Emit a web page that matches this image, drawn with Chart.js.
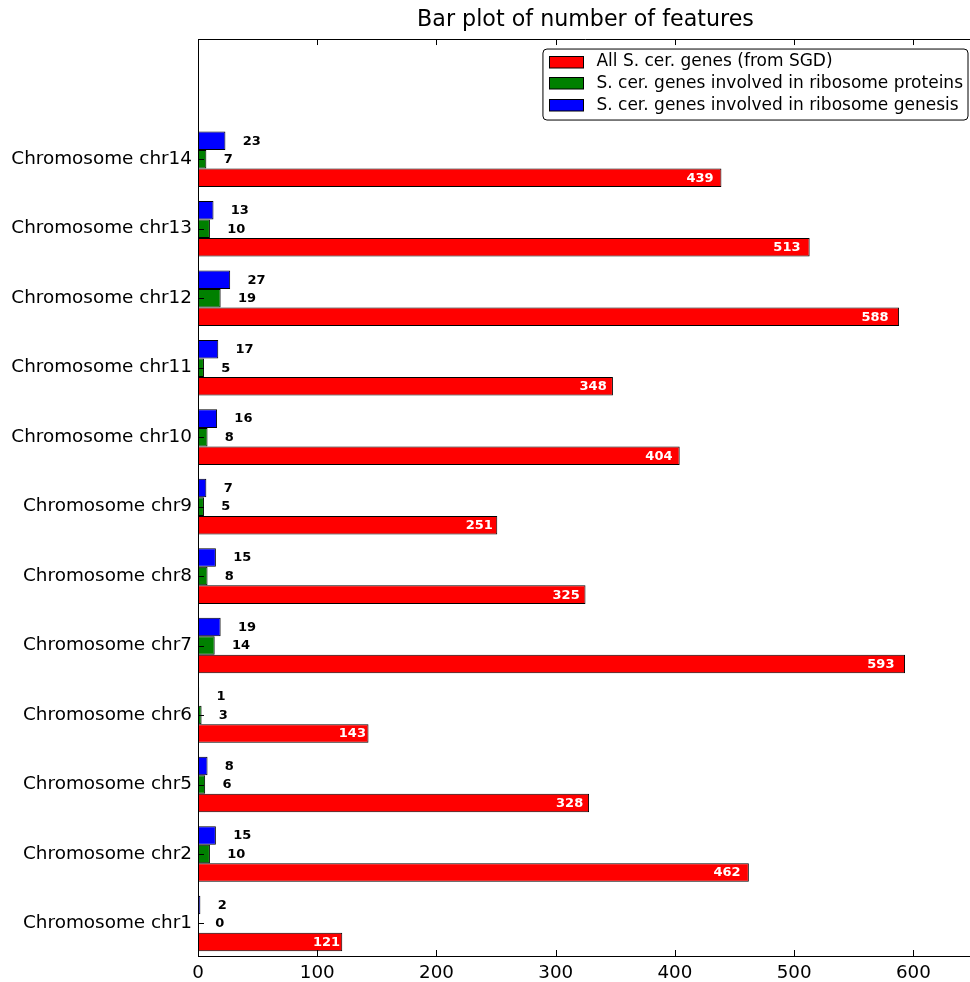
<!DOCTYPE html>
<html>
<head>
<meta charset="utf-8">
<title>Bar plot of number of features</title>
<script src="https://cdn.jsdelivr.net/npm/chart.js@4/dist/chart.umd.min.js"></script>
<style>
  html, body { margin: 0; padding: 0; background: #fff; overflow: hidden; }
  #wrap { position: relative; width: 980px; height: 982px; }
</style>
</head>
<body>
<div id="wrap"><canvas id="chart"></canvas></div>
<script>
// Chromosomes, bottom to top
const chromosomes = [
  'Chromosome chr1', 'Chromosome chr2', 'Chromosome chr5', 'Chromosome chr6',
  'Chromosome chr7', 'Chromosome chr8', 'Chromosome chr9', 'Chromosome chr10',
  'Chromosome chr11', 'Chromosome chr12', 'Chromosome chr13', 'Chromosome chr14'
];
const allGenes     = [121, 462, 328, 143, 593, 325, 251, 404, 348, 588, 513, 439];
const riboProteins = [0, 10, 6, 3, 14, 8, 5, 8, 5, 19, 10, 7];
const riboGenesis  = [2, 15, 8, 1, 19, 15, 7, 16, 17, 27, 13, 23];
const xTicks = [0, 100, 200, 300, 400, 500, 600];

const FONT = '"DejaVu Sans", "Liberation Sans", sans-serif';
Chart.defaults.font.family = FONT;
Chart.defaults.color = '#000';

const series = (values) => values.map((v, i) => ({ x: v, y: i }));

// Value labels: white inside the long bars, black beside the short ones
const valueLabels = {
  id: 'valueLabels',
  afterDatasetsDraw(chart) {
    const ctx = chart.ctx;
    const xs = chart.scales.x;
    ctx.save();
    ctx.font = 'bold 13px ' + FONT;
    ctx.textBaseline = 'middle';
    chart.data.datasets.forEach((ds, di) => {
      chart.getDatasetMeta(di).data.forEach((bar, j) => {
        const v = ds.data[j].x;
        if (ds.labelInside) {
          ctx.fillStyle = '#fff';
          ctx.textAlign = 'right';
          ctx.fillText(String(v), xs.getPixelForValue(v * 0.985), bar.y + 0.5);
        } else {
          ctx.fillStyle = '#000';
          ctx.textAlign = 'left';
          ctx.fillText(String(v), xs.getPixelForValue(v + 14.5), bar.y + 0.5);
        }
      });
    });
    ctx.restore();
  }
};

// Top/right spines and inward tick marks
const frame = {
  id: 'frame',
  afterDatasetsDraw(chart) {
    const { ctx, chartArea: a, scales: { x, y } } = chart;
    const T = 6;
    ctx.save();
    ctx.strokeStyle = '#000';
    ctx.lineWidth = 1;
    ctx.beginPath();
    const top = Math.round(a.top) + 0.5;
    const right = Math.round(a.right) + 0.5;
    ctx.moveTo(a.left, top); ctx.lineTo(right, top);
    ctx.moveTo(right, a.top); ctx.lineTo(right, a.bottom);
    x.ticks.forEach(t => {
      const px = Math.round(x.getPixelForValue(t.value)) + 0.5;
      ctx.moveTo(px, a.top); ctx.lineTo(px, a.top + T);
      ctx.moveTo(px, a.bottom); ctx.lineTo(px, a.bottom - T);
    });
    y.ticks.forEach(t => {
      const py = Math.round(y.getPixelForValue(t.value)) + 0.5;
      ctx.moveTo(a.left, py); ctx.lineTo(a.left + T, py);
    });
    ctx.stroke();
    ctx.restore();
  }
};

// Legend box in the upper right corner of the plot area
const insideLegend = {
  id: 'insideLegend',
  afterDraw(chart) {
    const { ctx, chartArea: a } = chart;
    const items = chart.data.datasets.slice().reverse();
    ctx.save();
    ctx.font = '17px ' + FONT;
    const textW = Math.max(...items.map(d => ctx.measureText(d.label).width));
    const padL = 6.5, handleW = 34, handleH = 11.5, gap = 13, padR = 5, rowH = 21.7;
    const w = padL + handleW + gap + textW + padR;
    const h = 71;
    const right = a.right - 5;
    const top = a.top + 10;
    const left = right - w;
    const r = 4;
    ctx.beginPath();
    ctx.moveTo(left + r, top);
    ctx.lineTo(left + w - r, top);
    ctx.arcTo(left + w, top, left + w, top + r, r);
    ctx.lineTo(left + w, top + h - r);
    ctx.arcTo(left + w, top + h, left + w - r, top + h, r);
    ctx.lineTo(left + r, top + h);
    ctx.arcTo(left, top + h, left, top + h - r, r);
    ctx.lineTo(left, top + r);
    ctx.arcTo(left, top, left + r, top, r);
    ctx.closePath();
    ctx.fillStyle = '#fff';
    ctx.fill();
    ctx.strokeStyle = '#000';
    ctx.lineWidth = 1;
    ctx.stroke();
    items.forEach((d, i) => {
      const cy = top + 12.5 + i * rowH;
      const hx = Math.round(left + padL) + 0.5;
      const hy = Math.round(cy - handleH / 2) + 0.5;
      ctx.fillStyle = d.backgroundColor;
      ctx.fillRect(hx, hy, handleW, handleH);
      ctx.strokeRect(hx, hy, handleW, handleH);
      ctx.fillStyle = '#000';
      ctx.textAlign = 'left';
      ctx.textBaseline = 'middle';
      ctx.fillText(d.label, left + padL + handleW + gap, cy + 0.5);
    });
    ctx.restore();
  }
};

new Chart(document.getElementById('chart'), {
  type: 'bar',
  data: {
    datasets: [
      {
        label: 'S. cer. genes involved in ribosome genesis',
        data: series(riboGenesis),
        backgroundColor: '#0000ff'
      },
      {
        label: 'S. cer. genes involved in ribosome proteins',
        data: series(riboProteins),
        backgroundColor: '#008000'
      },
      {
        label: 'All S. cer. genes (from SGD)',
        data: series(allGenes),
        backgroundColor: '#ff0000',
        labelInside: true
      }
    ]
  },
  options: {
    indexAxis: 'y',
    responsive: true,
    maintainAspectRatio: false,
    animation: false,
    events: [],
    categoryPercentage: 0.8,
    barPercentage: 1.0,
    borderColor: '#000',
    borderWidth: 1,
    borderSkipped: false,
    layout: { padding: { left: 0, right: 7, top: 0, bottom: 0 } },
    scales: {
      x: {
        type: 'linear',
        position: 'bottom',
        min: 0,
        max: 650,
        afterBuildTicks(scale) { scale.ticks = xTicks.map(v => ({ value: v })); },
        afterFit(scale) { scale.height = 26; },
        grid: { display: false, drawTicks: false },
        border: { display: true, color: '#000', width: 1 },
        ticks: { font: { size: 18.3 }, color: '#000', padding: 6, maxRotation: 0 }
      },
      y: {
        type: 'linear',
        position: 'left',
        offset: false,
        min: -0.468,
        max: 12.73,
        afterBuildTicks(scale) { scale.ticks = chromosomes.map((_, i) => ({ value: i })); },
        afterFit(scale) { scale.width = 198; },
        grid: { display: false, drawTicks: false, offset: false },
        border: { display: true, color: '#000', width: 1 },
        ticks: {
          font: { size: 18.4 },
          color: '#000',
          padding: 6,
          callback: (value) => chromosomes[value]
        }
      }
    },
    plugins: {
      legend: { display: false },
      tooltip: { enabled: false },
      title: {
        display: true,
        text: 'Bar plot of number of features',
        fullSize: false,
        color: '#000',
        font: { size: 22.2, weight: 'normal' },
        padding: { top: 7, bottom: 5.4 }
      }
    }
  },
  plugins: [valueLabels, frame, insideLegend]
});
</script>
</body>
</html>
